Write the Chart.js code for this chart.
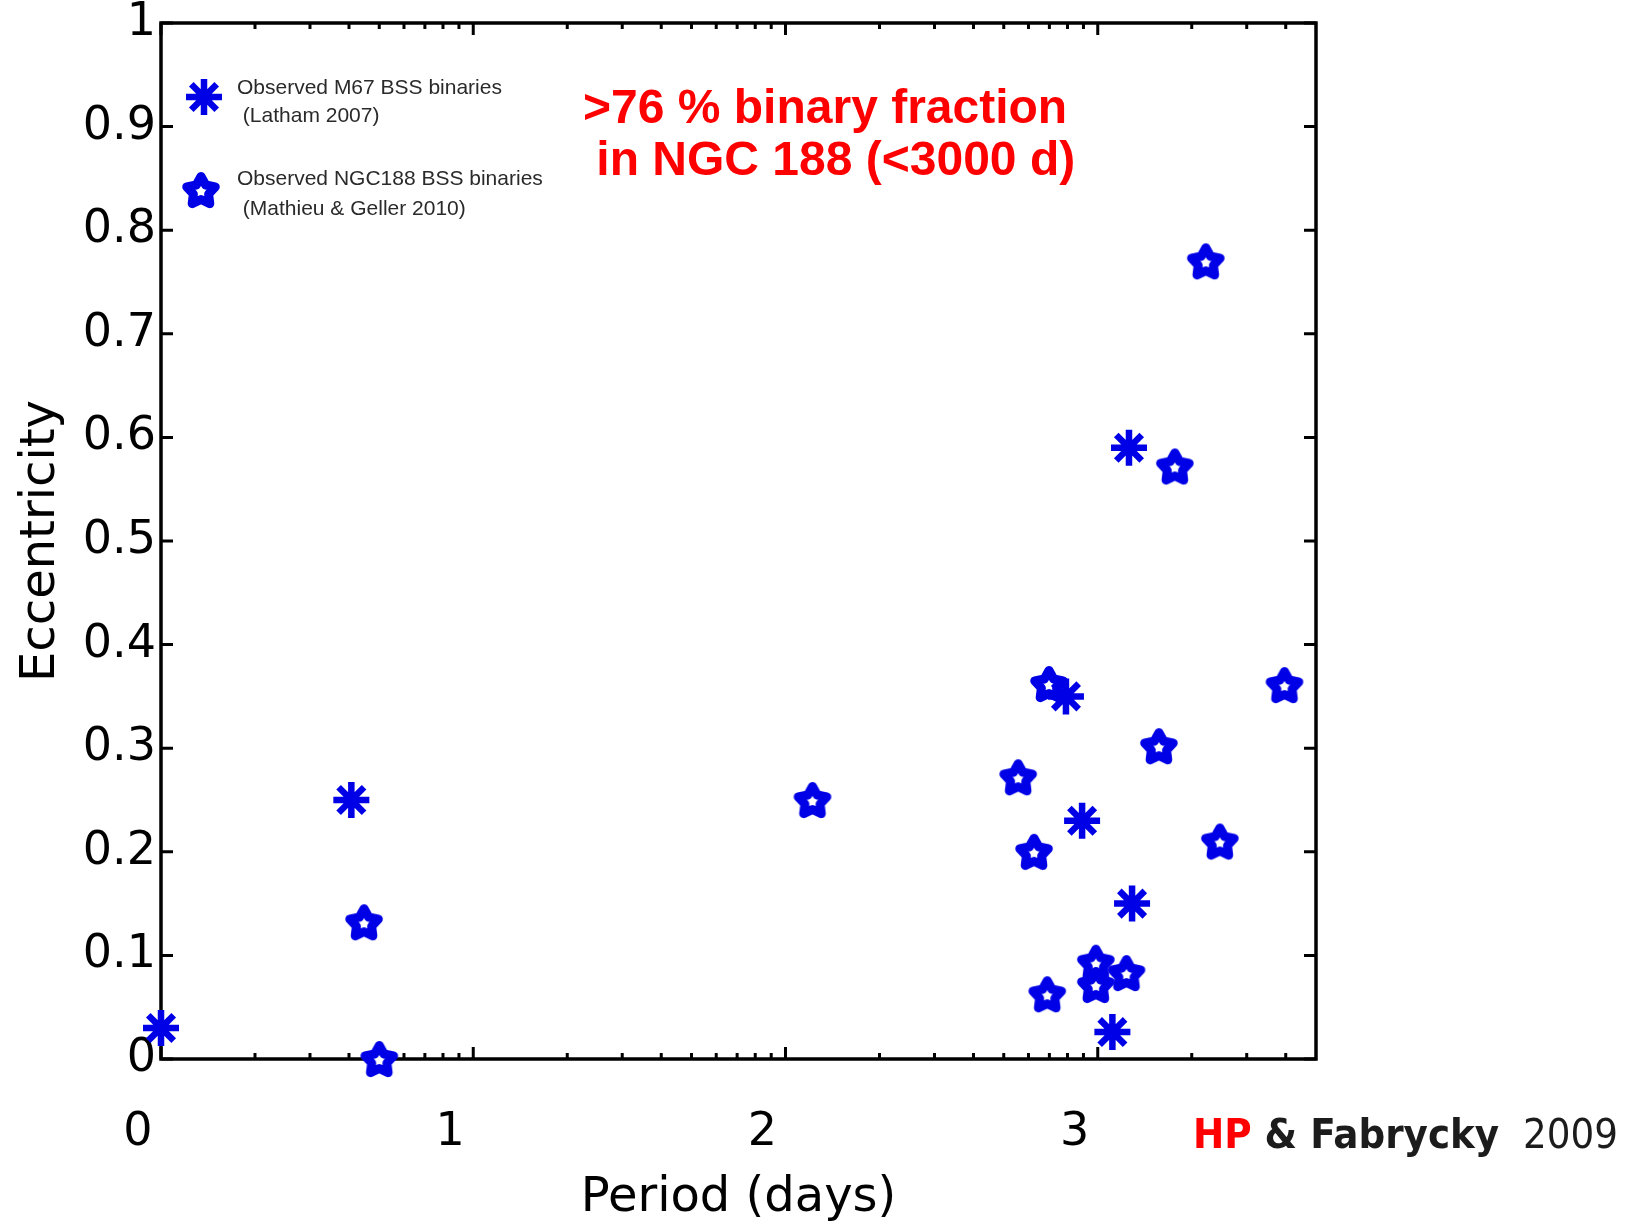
<!DOCTYPE html>
<html>
<head>
<meta charset="utf-8">
<script src="https://cdn.jsdelivr.net/npm/chart.js@4.4.1/dist/chart.umd.min.js"></script>
<style>
  html, body { margin: 0; padding: 0; background: #fff; }
  #wrap { position: relative; width: 1636px; height: 1222px; overflow: hidden; }
  #c { position: absolute; left: 0; top: 0; }
  .note { position: absolute; white-space: pre; }
  #red { left: 583px; top: 81px; font-family: "Liberation Sans", Arial, sans-serif; font-weight: bold;
         font-size: 48px; line-height: 52px; color: #ff0000; }
  #credit { left: 1193px; top: 1114px; font-family: "DejaVu Sans Condensed", "DejaVu Sans", sans-serif;
            font-stretch: condensed; font-size: 41.5px; line-height: 40px; color: #1c1c1c; }
  #credit b.hp { color: #ff0000; }
  #credit span.yr { font-weight: normal; }
</style>
</head>
<body>
<div id="wrap">
  <canvas id="c" width="1636" height="1222"></canvas>
  <div id="red" class="note">&gt;76 % binary fraction
 in NGC 188 (&lt;3000 d)</div>
  <div id="credit" class="note"><b class="hp">HP</b><b> &amp; Fabrycky</b><span class="yr">  2009</span></div>
</div>
<script>
// ---- data (period in days, eccentricity) ----
const m67Period = [1.0, 4.07, 791, 891, 1288, 1114, 1259];
const m67Ecc    = [0.03, 0.25, 0.35, 0.23, 0.15, 0.026, 0.59];

const ngcPeriod = [4.47, 5.0, 122, 698, 3963, 1570, 556, 625, 2460, 986, 986, 1236, 689, 2218, 1766];
const ngcEcc    = [0.132, 0.0, 0.25, 0.362, 0.361, 0.302, 0.272, 0.20, 0.21, 0.093, 0.0715, 0.083, 0.0625, 0.77, 0.572];

const xTickValues = [1, 10, 100, 1000];
const xTickLabels = ['0', '1', '2', '3'];
const yTickValues = [0, 0.1, 0.2, 0.3, 0.4, 0.5, 0.6, 0.7, 0.8, 0.9, 1];
const yTickLabels = ['0', '0.1', '0.2', '0.3', '0.4', '0.5', '0.6', '0.7', '0.8', '0.9', '1'];

const legendM67 = ['Observed M67 BSS binaries', ' (Latham 2007)'];
const legendNGC = ['Observed NGC188 BSS binaries', ' (Mathieu & Geller 2010)'];

const BLUE = '#0000e6';

function makeStar() {
  const s = 46;
  const c = document.createElement('canvas');
  c.width = s; c.height = s;
  const g = c.getContext('2d');
  const cx = s / 2, cy = s / 2 + 1.5;
  const R = 15, r = 8;
  g.beginPath();
  for (let i = 0; i < 10; i++) {
    const a = -Math.PI / 2 + i * Math.PI / 5;
    const rad = (i % 2 === 0) ? R : r;
    g.lineTo(cx + rad * Math.cos(a), cy + rad * Math.sin(a));
  }
  g.closePath();
  g.fillStyle = '#ffffff';
  g.fill();
  g.lineWidth = 9;
  g.lineJoin = 'round';
  g.strokeStyle = BLUE;
  g.stroke();
  return c;
}
const starImg = makeStar();

// frame + inward ticks (MATLAB style box)
const framePlugin = {
  id: 'frame',
  beforeDatasetsDraw(chart) {
    const { ctx, chartArea: a, scales: { x, y } } = chart;
    ctx.save();
    ctx.strokeStyle = '#000';
    ctx.lineCap = 'butt';
    ctx.lineWidth = 3;
    const major = 12, minor = 6;
    const xmax = x.max;
    const drawX = (v, len) => {
      const px = x.getPixelForValue(v);
      ctx.beginPath();
      ctx.moveTo(px, a.bottom); ctx.lineTo(px, a.bottom - len);
      ctx.moveTo(px, a.top); ctx.lineTo(px, a.top + len);
      ctx.stroke();
    };
    xTickValues.forEach(v => drawX(v, major));
    xTickValues.forEach(dec => {
      for (let k = 2; k <= 9; k++) {
        const v = k * dec;
        if (v < xmax) drawX(v, minor);
      }
    });
    yTickValues.forEach(v => {
      const py = y.getPixelForValue(v);
      ctx.beginPath();
      ctx.moveTo(a.left, py); ctx.lineTo(a.left + major, py);
      ctx.moveTo(a.right, py); ctx.lineTo(a.right - major, py);
      ctx.stroke();
    });
    ctx.lineWidth = 3.5;
    ctx.strokeRect(a.left, a.top, a.right - a.left, a.bottom - a.top);
    ctx.restore();
  }
};

// in-plot legend with two-line labels
const legendPlugin = {
  id: 'boxLegend',
  afterDatasetsDraw(chart) {
    const ctx = chart.ctx;
    const ds = chart.data.datasets;
    ctx.save();
    ctx.strokeStyle = BLUE; ctx.fillStyle = BLUE; ctx.lineWidth = ds[0].pointBorderWidth;
    Chart.helpers.drawPoint(ctx, { pointStyle: ds[0].pointStyle, radius: ds[0].pointRadius, borderWidth: ds[0].pointBorderWidth, rotation: 0 }, 204, 97);
    Chart.helpers.drawPoint(ctx, { pointStyle: ds[1].pointStyle, radius: 18, borderWidth: 0, rotation: 0 }, 201, 190);
    ctx.fillStyle = '#2a2a2a';
    ctx.font = '21px "Liberation Sans", Arial, sans-serif';
    ctx.textAlign = 'left';
    ctx.textBaseline = 'alphabetic';
    ctx.fillText(legendM67[0], 237, 94);
    ctx.fillText(legendM67[1], 237, 122);
    ctx.fillText(legendNGC[0], 237, 185);
    ctx.fillText(legendNGC[1], 237, 215);
    ctx.restore();
  }
};

const tickFont = { family: 'DejaVu Sans', size: 46 };
const titleFont = { family: 'DejaVu Sans', size: 48 };

new Chart(document.getElementById('c'), {
  type: 'scatter',
  data: {
    datasets: [
      {
        label: legendM67.join(''),
        data: m67Period.map((p, i) => ({ x: p, y: m67Ecc[i] })),
        pointStyle: 'star',
        pointRadius: 18,
        pointHoverRadius: 18,
        pointBorderWidth: 6.5,
        borderColor: BLUE,
        backgroundColor: BLUE,
        clip: false,
        order: 0
      },
      {
        label: legendNGC.join(''),
        data: ngcPeriod.map((p, i) => ({ x: p, y: ngcEcc[i] })),
        pointStyle: starImg,
        pointRadius: 18,
        pointHoverRadius: 18,
        borderColor: BLUE,
        backgroundColor: BLUE,
        clip: false,
        order: 1
      }
    ]
  },
  options: {
    responsive: false,
    animation: false,
    events: [],
    devicePixelRatio: 1,
    layout: { padding: { top: 23, right: 320, left: 0, bottom: 0 }, autoPadding: false },
    plugins: { legend: { display: false }, tooltip: { enabled: false } },
    scales: {
      x: {
        type: 'logarithmic',
        position: 'bottom',
        min: 1,
        max: 5000,
        afterBuildTicks: s => { s.ticks = xTickValues.map(v => ({ value: v })); },
        afterFit: s => { s.height = 163; s.paddingLeft = 0; s.paddingRight = 0; },
        grid: { display: false, drawTicks: false },
        border: { display: false },
        ticks: {
          autoSkip: false, maxRotation: 0, minRotation: 0,
          labelOffset: -23, padding: 46,
          color: '#000', font: tickFont,
          callback: (v, i) => xTickLabels[i]
        },
        title: { display: true, text: 'Period (days)', color: '#000', font: titleFont, padding: { top: 0, bottom: -5 } }
      },
      y: {
        type: 'linear',
        position: 'left',
        min: 0,
        max: 1,
        afterBuildTicks: s => { s.ticks = yTickValues.map(v => ({ value: v })); },
        afterFit: s => { s.width = 161; s.paddingTop = 0; s.paddingBottom = 0; },
        grid: { display: false, drawTicks: false },
        border: { display: false },
        ticks: {
          autoSkip: false, padding: 5,
          color: '#000', font: tickFont,
          callback: (v, i) => yTickLabels[i]
        },
        title: { display: true, text: 'Eccentricity', color: '#000', font: titleFont, padding: { top: 13, bottom: 0 } }
      }
    }
  },
  plugins: [framePlugin, legendPlugin]
});
</script>
</body>
</html>
